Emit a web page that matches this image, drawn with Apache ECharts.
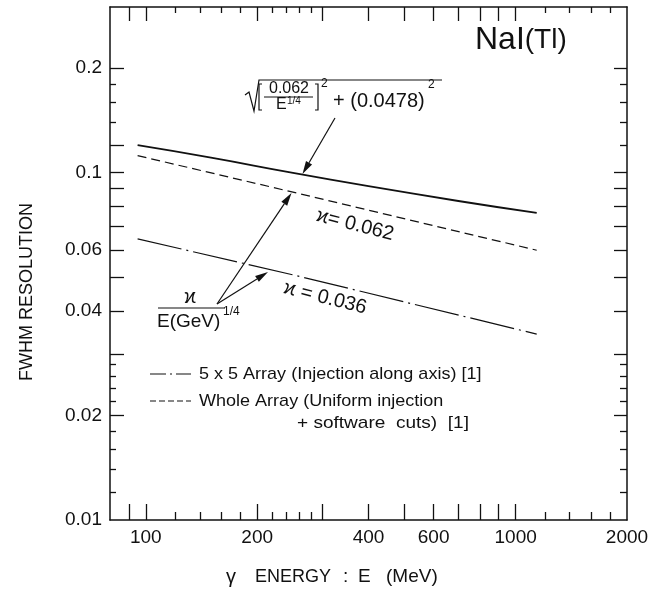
<!DOCTYPE html>
<html>
<head>
<meta charset="utf-8">
<script src="https://cdn.jsdelivr.net/npm/echarts@6/dist/echarts.min.js"></script>
<style>
html,body{margin:0;padding:0;background:#fff;}
#chart{width:657px;height:589px;}
</style>
</head>
<body>
<div id="chart"></div>
<script>
// values (E in MeV, FWHM resolution)
var energyTotal = [95, 150, 250, 400, 700, 1140];
var resTotal = [0.120, 0.1105, 0.0999, 0.0915, 0.0829, 0.0766];
var energyWhole = [95, 250, 1140];
var resWhole = [0.112, 0.0879, 0.0598];
var energyArray5 = [95, 250, 1140];
var resArray5 = [0.0645, 0.0508, 0.0343];

// ticks
var xLabels = [100, 200, 400, 600, 1000, 2000];
var xLongTicks = [90, 100, 200, 300, 400, 500, 600, 700, 800, 900, 1000];
var xShortTicks = [120, 140, 160, 180, 220, 240, 260, 280, 1200, 1400, 1600, 1800];
var yLabels = [0.01, 0.02, 0.04, 0.06, 0.1, 0.2];
var yLongLeft = [0.02, 0.03, 0.04, 0.05, 0.06, 0.07, 0.08, 0.09, 0.1, 0.12, 0.2];
var yShortLeft = [0.012, 0.014, 0.016, 0.018, 0.022, 0.024, 0.026, 0.028, 0.14, 0.16, 0.18];
var yLongRight = [0.02, 0.03, 0.04, 0.05, 0.06, 0.07, 0.08, 0.09, 0.1, 0.2];
var yShortRight = [0.012, 0.014, 0.016, 0.018, 0.022, 0.024, 0.026, 0.028, 0.12, 0.14, 0.16, 0.18];

var FONT = 'Liberation Sans';
var INK = '#111';

function pairs(xs, ys) {
    return xs.map(function (x, i) { return [x, ys[i]]; });
}
function fmt(v) { return String(+(+v).toPrecision(6)); }

function xAxisDef(pos, ticks, len, withLine, labels) {
    return {
        type: 'log', position: pos, min: 80, max: 2000, logBase: 10,
        axisLine: { show: withLine, lineStyle: { color: INK, width: 1.5 } },
        axisTick: { show: true, inside: true, length: len, customValues: ticks,
            lineStyle: { color: INK, width: 1.3 } },
        minorTick: { show: false },
        splitLine: { show: false },
        axisLabel: labels ? { show: true, customValues: labels, formatter: fmt, margin: 8,
            color: INK, fontSize: 19, fontFamily: FONT } : { show: false }
    };
}
function yAxisDef(pos, ticks, len, withLine, labels) {
    return {
        type: 'log', position: pos, min: 0.01, max: 0.3, logBase: 10,
        axisLine: { show: withLine, lineStyle: { color: INK, width: 1.5 } },
        axisTick: { show: true, inside: true, length: len, customValues: ticks,
            lineStyle: { color: INK, width: 1.3 } },
        minorTick: { show: false },
        splitLine: { show: false },
        axisLabel: labels ? { show: true, customValues: labels, formatter: fmt, margin: 8,
            color: INK, fontSize: 19, fontFamily: FONT } : { show: false }
    };
}

function arrow(x1, y1, x2, y2) {
    var dx = x2 - x1, dy = y2 - y1, L = Math.sqrt(dx * dx + dy * dy);
    var ux = dx / L, uy = dy / L, hl = 13, hw = 3.5;
    var bx = x2 - ux * hl, by = y2 - uy * hl;
    return [
        { type: 'line', shape: { x1: x1, y1: y1, x2: bx, y2: by },
          style: { stroke: INK, lineWidth: 1.2 } },
        { type: 'polygon', shape: { points: [[x2, y2], [bx - uy * hw, by + ux * hw], [bx + uy * hw, by - ux * hw]] },
          style: { fill: INK } }
    ];
}
function txt(x, y, s, size, opts) {
    var o = { type: 'text', x: x, y: y,
        style: { text: s, fill: INK, font: size + 'px "' + FONT + '"',
                 align: 'left', verticalAlign: 'middle' } };
    if (opts) {
        for (var k in opts) {
            if (k === 'rotation' || k === 'scaleX') o[k] = opts[k];
            else o.style[k] = opts[k];
        }
    }
    return o;
}
function poly(points, w, dash) {
    return { type: 'polyline', shape: { points: points },
        style: { stroke: INK, lineWidth: w || 1.2, fill: null, lineDash: dash || null } };
}

var graphics = [
    // title
    { type: 'text', x: 475, y: 40, style: {
        text: '{a|NaI}{b|(Tl)}', fill: INK, verticalAlign: 'middle',
        rich: { a: { fontSize: 32, fontFamily: FONT, fill: INK },
                b: { fontSize: 28, fontFamily: FONT, fill: INK } } } },
    // formula
    poly([[245, 95], [249, 92], [254, 111], [259, 80], [442, 80]], 1.2),
    poly([[262, 84], [259, 84], [259, 110], [262, 110]], 1.2),
    poly([[315, 84], [318, 84], [318, 110], [315, 110]], 1.2),
    txt(289, 89, '0.062', 16, { align: 'center' }),
    poly([[264, 97], [313, 97]], 1),
    txt(276, 105, 'E', 16),
    txt(287, 101, '1/4', 10),
    txt(321, 84, '2', 12),
    txt(333, 101, '+ (0.0478)', 20),
    txt(428, 85, '2', 12),
    // kappa labels
    txt(355, 225, 'ϰ= 0.062', 20, { align: 'center', rotation: -0.25 }),
    txt(325, 298, 'ϰ = 0.036', 20, { align: 'center', rotation: -0.25 }),
    // fraction
    txt(190, 297, 'ϰ', 20, { align: 'center' }),
    poly([[158, 308], [225, 308]], 1.2),
    txt(157, 322, 'E(GeV)', 19),
    txt(223, 312, '1/4', 12),
    // legend
    poly([[150, 374], [191, 374]], 1.1, [16, 4, 2, 4]),
    txt(199, 374, '5 x 5 Array (Injection along axis) [1]', 17, { scaleX: 1.06 }),
    poly([[150, 401], [191, 401]], 1.1, [6, 3]),
    txt(199, 401, 'Whole Array (Uniform injection', 17, { scaleX: 1.06 }),
    txt(297, 423, '+ software  cuts)  [1]', 17, { scaleX: 1.12 }),
    // axis titles
    txt(27, 292, 'FWHM RESOLUTION', 18, { align: 'center', rotation: Math.PI / 2 }),
    txt(226, 577, 'γ', 20),
    txt(255, 577, 'ENERGY', 18),
    txt(343, 577, ':', 19),
    txt(358, 577, 'E', 19),
    txt(386, 577, '(MeV)', 19)
];
graphics = graphics.concat(arrow(335, 118, 302.5, 174))
    .concat(arrow(217, 304, 291.5, 193))
    .concat(arrow(217, 304, 268, 272));

var chart = echarts.init(document.getElementById('chart'), null, { renderer: 'canvas' });
var option = {
    backgroundColor: '#fff',
    animation: false,
    grid: { left: 110, right: 30, top: 7, bottom: 69, containLabel: false, outerBoundsMode: 'none' },
    xAxis: [
        xAxisDef('bottom', xLongTicks, 16, true, xLabels),
        xAxisDef('bottom', xShortTicks, 8, false, null),
        xAxisDef('top', xLongTicks, 14, true, null),
        xAxisDef('top', xShortTicks, 6, false, null)
    ],
    yAxis: [
        yAxisDef('left', yLongLeft, 14, true, yLabels),
        yAxisDef('left', yShortLeft, 6, false, null),
        yAxisDef('right', yLongRight, 13, true, null),
        yAxisDef('right', yShortRight, 7, false, null)
    ],
    series: [
        { name: 'total', type: 'line', data: pairs(energyTotal, resTotal), symbol: 'none',
          smooth: true, lineStyle: { color: INK, width: 1.8 } },
        { name: 'whole', type: 'line', data: pairs(energyWhole, resWhole), symbol: 'none',
          lineStyle: { color: INK, width: 1.2, type: [9, 5] } },
        { name: 'array5', type: 'line', data: pairs(energyArray5, resArray5), symbol: 'none',
          lineStyle: { color: INK, width: 1.2, type: [45, 5, 2, 5] } }
    ],
    graphic: graphics
};
chart.setOption(option);
window.addEventListener('resize', function () { chart.resize(); });
</script>
</body>
</html>
